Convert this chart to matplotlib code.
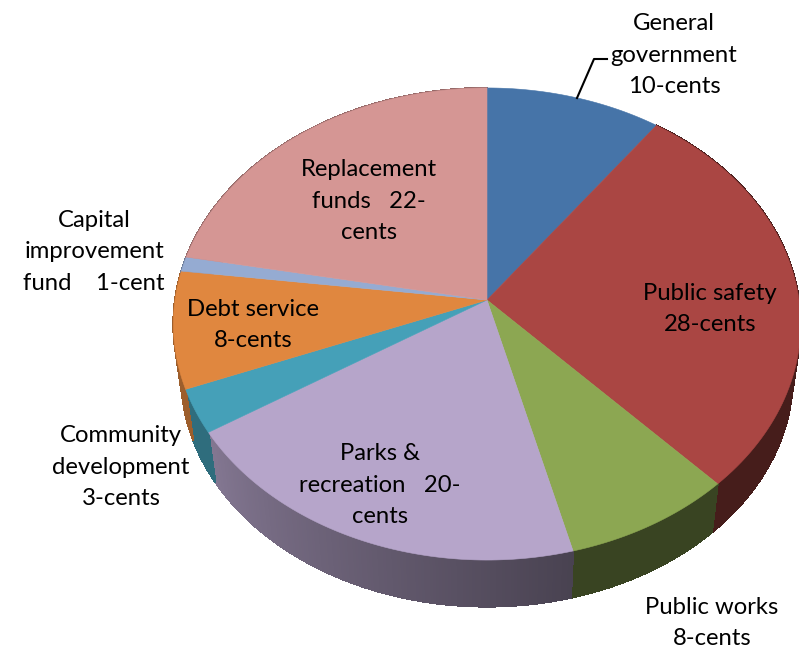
import numpy as np
import matplotlib
matplotlib.use("Agg")
import matplotlib.pyplot as plt
from matplotlib.colors import to_rgb

plt.rcParams['font.family'] = ['Lato', 'DejaVu Sans']

categories = ["General government", "Public safety", "Public works", "Parks & recreation",
              "Community development", "Debt service", "Capital improvement fund", "Replacement funds"]
cents = [10, 28, 8, 20, 3, 8, 1, 22]
colors = ["#4674A8", "#AA4643", "#8CA752", "#B6A5CA", "#45A0B8", "#E0873F", "#95ABD2", "#D59694"]
# how dark the side wall of each slice is, at its clockwise start and end
wall_shade = [(0.3, 0.3), (0.41, 0.41), (0.41, 0.41), (0.40, 0.72), (0.68, 0.68), (0.7, 0.7), (0.7, 0.7), (0.7, 0.7)]

labels = ["General\ngovernment\n10-cents", "Public safety\n28-cents", "Public works\n8-cents",
          "Parks &\nrecreation   20-\ncents", "Community\ndevelopment\n3-cents", "Debt service\n8-cents",
          "Capital\nimprovement\nfund    1-cent", "Replacement\nfunds   22-\ncents"]
label_pos = [(674, 55), (710, 309), (712, 623), (380, 485), (121, 467), (253, 325), (94, 252), (369, 201)]

# pie geometry in pixels
cx, cy = 487, 300
rx, ry = 312, 233.6
persp = 0.1017
wall_scale, wall_drop = 0.975, 53


def rim(theta, scale=1.0, drop=0.0):
    """theta in degrees clockwise from the top, perspective projected"""
    t = np.radians(theta)
    u, v = np.sin(t), np.cos(t)
    w = 1 + persp * v
    return cx + scale * rx * u / w, cy + drop - scale * ry * v / w


fig = plt.figure(figsize=(7.99, 6.48), dpi=100, facecolor='white')
ax = fig.add_axes([0, 0, 1, 1])
ax.set_xlim(0, 799)
ax.set_ylim(648, 0)
ax.axis('off')

edges = np.cumsum([0] + cents) / sum(cents) * 360

# side wall first, from the back towards the front
for i in range(len(cents)):
    a0, a1 = edges[i], edges[i + 1]
    if a1 < 85 or a0 > 290:
        continue
    steps = np.linspace(a0, a1, max(int((a1 - a0) * 2), 2))
    base = np.array(to_rgb(colors[i]))
    for s0, s1 in zip(steps[:-1], steps[1:]):
        f = np.interp((s0 + s1) / 2, [a0, a1], wall_shade[i])
        x0, y0 = rim(s0)
        x1, y1 = rim(s1)
        x2, y2 = rim(s1, wall_scale, wall_drop)
        x3, y3 = rim(s0, wall_scale, wall_drop)
        c = tuple(base * f)
        ax.fill([x0, x1, x2, x3], [y0, y1, y2, y3], color=c, lw=0.8, antialiased=False, zorder=2)

# top face
for i in range(len(cents)):
    steps = np.linspace(edges[i], edges[i + 1], 80)
    xs, ys = rim(steps)
    ax.fill(np.r_[cx, xs], np.r_[cy, ys], color=colors[i], lw=0.4, zorder=3)

# leader line for the first label
ax.plot([577, 594, 607], [98, 59, 59], color='black', lw=1.5, zorder=4)

for txt, (x, y) in zip(labels, label_pos):
    ax.text(x, y, txt, ha='center', va='center', fontsize=17.2, color='black',
            linespacing=1.62, zorder=5)

fig.savefig("out.png", dpi=100)
